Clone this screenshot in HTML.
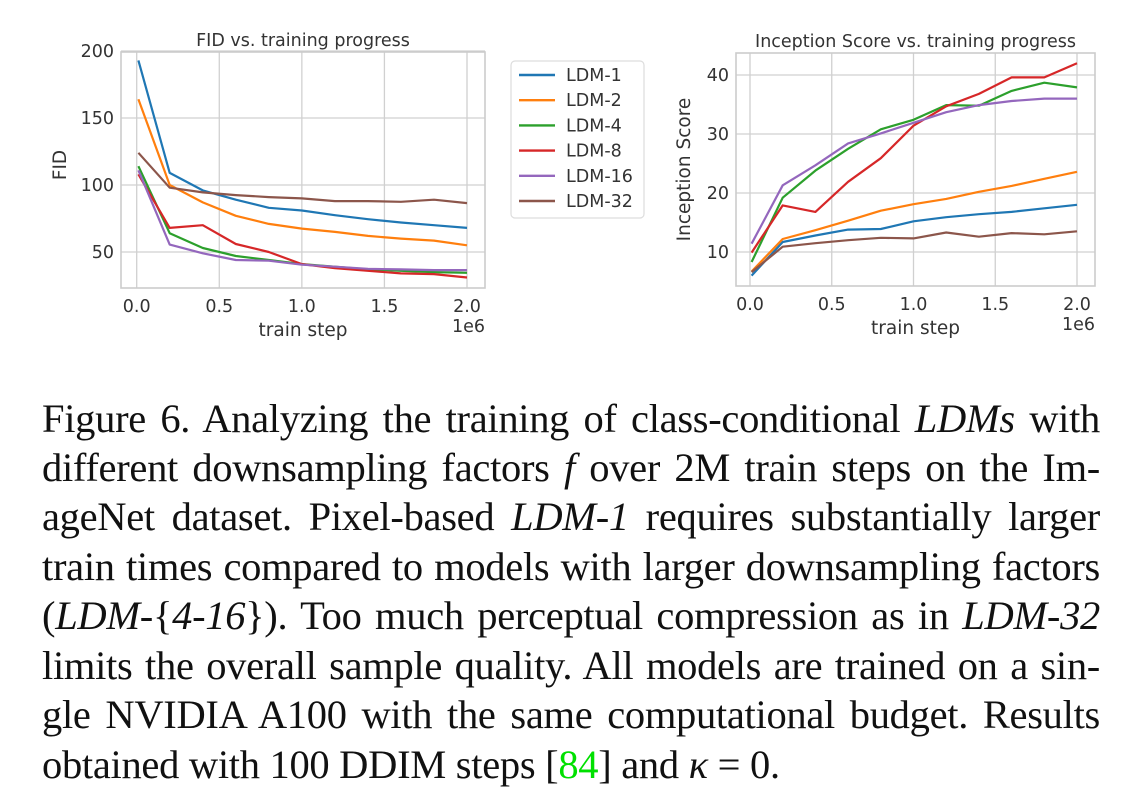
<!DOCTYPE html>
<html><head><meta charset="utf-8">
<style>
body{margin:0;background:#fff;width:1135px;height:797px;overflow:hidden;position:relative;font-family:"DejaVu Sans","Liberation Sans",sans-serif}
svg{position:absolute;left:0;top:0}
.cap{position:absolute;left:42px;width:1058px;font-family:"Liberation Serif",serif;font-size:40.5px;color:#111;text-align:justify;text-align-last:justify;white-space:nowrap;line-height:40px;letter-spacing:-0.3px}
.cap i{font-style:italic}
</style></head><body>
<svg id="chart" width="1135" height="380" xmlns="http://www.w3.org/2000/svg"></svg>
<div class="cap" style="top:399px">Figure 6. Analyzing the training of class-conditional <i>LDMs</i> with</div>
<div class="cap" style="top:448px">different downsampling factors <i>f</i> over 2M train steps on the Im-</div>
<div class="cap" style="top:497px">ageNet dataset. Pixel-based <i>LDM-1</i> requires substantially larger</div>
<div class="cap" style="top:547px">train times compared to models with larger downsampling factors</div>
<div class="cap" style="top:596px">(<i>LDM</i>-{<i>4-16</i>}). Too much perceptual compression as in <i>LDM-32</i></div>
<div class="cap" style="top:646px">limits the overall sample quality. All models are trained on a sin-</div>
<div class="cap" style="top:695px">gle NVIDIA A100 with the same computational budget. Results</div>
<div class="cap" style="top:745px;text-align-last:left;width:auto">obtained with 100 DDIM steps [<span style="color:#00e000">84</span>] and <i>κ</i> = 0.</div>
<script>
const steps=[0.01,0.2,0.4,0.6,0.8,1.0,1.2,1.4,1.6,1.8,2.0];
const seriesNames=["LDM-1","LDM-2","LDM-4","LDM-8","LDM-16","LDM-32"];
const colors=["#1f77b4","#ff7f0e","#2ca02c","#d62728","#9467bd","#8c564b"];
const fid1=[193,109,96,89,83,81,77.5,74.5,72,70,68];
const fid2=[164,100,87,77,71,67.5,65,62,60,58.5,55];
const fid4=[114,64,53,47,44,41,39,37,36,35,34.5];
const fid8=[108,68,70,56,50,41,38,36,34,33.5,31];
const fid16=[111,55.5,49,44,43.5,40.5,39,37.5,37,36.5,36.5];
const fid32=[124,98,94.5,92.5,91,90,88,88,87.5,89,86.5];
const is1=[6,11.7,12.8,13.8,13.9,15.2,15.9,16.4,16.8,17.4,18];
const is2=[6.7,12.2,13.7,15.3,17,18.1,19,20.2,21.2,22.4,23.6];
const is4=[8.3,19.2,23.8,27.5,30.8,32.4,34.9,34.8,37.3,38.7,37.9];
const is8=[9.9,17.9,16.8,21.9,25.9,31.4,34.7,36.8,39.6,39.6,42];
const is16=[11.4,21.3,24.7,28.4,30.1,31.9,33.7,34.9,35.6,36,36];
const is32=[6.6,10.9,11.5,12,12.4,12.3,13.3,12.6,13.2,13,13.5];
const xTicks=[0,0.5,1.0,1.5,2.0];
const xTickLabels=["0.0","0.5","1.0","1.5","2.0"];
const fidTicks=[50,100,150,200];
const isTicks=[10,20,30,40];

const NS="http://www.w3.org/2000/svg";
const svg=document.getElementById('chart');
function mk(tag,attrs,parent,text){const e=document.createElementNS(NS,tag);for(const k in attrs)e.setAttribute(k,attrs[k]);if(text!==undefined)e.textContent=text;(parent||svg).appendChild(e);return e;}

function panel(cfg){
  const g=mk('g',{});
  
  
  const X=v=>cfg.x0+(v-0)*(cfg.x2-cfg.x0)/2;
  const Y=v=>cfg.ya+(v-cfg.va)*(cfg.yb-cfg.ya)/(cfg.vb-cfg.va);
  xTicks.forEach((t,i)=>{
    const l=mk('line',{x1:X(t),x2:X(t),y1:cfg.top,y2:cfg.bot,stroke:'#d0d0d0','stroke-width':1.3},g);
    
    const tx=mk('text',{x:X(t),y:cfg.bot+24,'text-anchor':'middle','font-size':17.5,fill:'#333'},g,xTickLabels[i]);
    
  });
  cfg.yticks.forEach(t=>{
    const l=mk('line',{x1:cfg.left,x2:cfg.right,y1:Y(t),y2:Y(t),stroke:'#d0d0d0','stroke-width':1.3},g);
    
    const tx=mk('text',{x:cfg.left-7,y:Y(t)+6,'text-anchor':'end','font-size':17.5,fill:'#333'},g,String(t));
    
  });
  const fr=mk('rect',{x:cfg.left,y:cfg.top,width:cfg.right-cfg.left,height:cfg.bot-cfg.top,fill:'none',stroke:'#cccccc','stroke-width':1.6},g);
  
  cfg.data.forEach((arr,si)=>{
    const d=arr.map((v,i)=>(i?'L':'M')+X(steps[i]).toFixed(1)+' '+Y(v).toFixed(1)).join(' ');
    const p=mk('path',{d:d,fill:'none',stroke:colors[si],'stroke-width':2.2,'stroke-linejoin':'round'},g);
    
    
  });
  const ti=mk('text',{x:(cfg.left+cfg.right)/2,y:cfg.top-6,'text-anchor':'middle','font-size':17.5,fill:'#333'},g,cfg.title);
  
  const xl=mk('text',{x:(cfg.left+cfg.right)/2,y:cfg.bot+48,'text-anchor':'middle','font-size':18.5,fill:'#333'},g,'train step');
  
  const ex=mk('text',{x:cfg.right,y:cfg.bot+44,'text-anchor':'end','font-size':17.5,fill:'#333'},g,'1e6');
  
  const cy=(cfg.top+cfg.bot)/2+cfg.ylabOff;
  const yl=mk('text',{x:cfg.ylabX,y:cy,'text-anchor':'middle','font-size':18.5,fill:'#333',transform:`rotate(-90 ${cfg.ylabX} ${cy})`},g,cfg.ylab);
  
}
panel({name:'fid-chart',title:'FID vs. training progress',ylab:'FID',ylabX:66,ylabOff:-5,left:121,right:485,top:52,bot:288,x0:136.7,x2:467,ya:252,va:50,yb:185,vb:100,yticks:fidTicks,data:[fid1,fid2,fid4,fid8,fid16,fid32]});
panel({name:'inception-score-chart',title:'Inception Score vs. training progress',ylab:'Inception Score',ylabX:690,ylabOff:0,left:736,right:1095,top:53,bot:286,x0:750,x2:1077,ya:252,va:10,yb:75,vb:40,yticks:isTicks,data:[is1,is2,is4,is8,is16,is32]});

// legend
const lg=mk('g',{});


mk('rect',{x:511,y:61,width:133,height:157,rx:4,fill:'#fff',stroke:'#dddddd','stroke-width':1.2},lg);
seriesNames.forEach((n,i)=>{
  const yy=75+i*25.2;
  const e=mk('g',{},lg);
  
  
  mk('line',{x1:519,x2:555,y1:yy,y2:yy,stroke:colors[i],'stroke-width':2.4},e);
  mk('text',{x:566,y:yy+6,'font-size':17.5,fill:'#333'},e,n);
});
</script>
</body></html>
